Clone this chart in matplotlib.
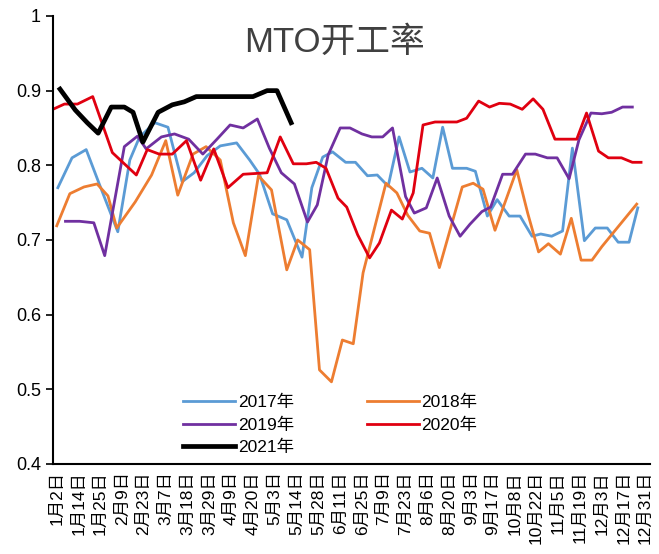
import matplotlib
matplotlib.use("Agg")
import matplotlib.pyplot as plt

plt.rcParams['font.family'] = ['Liberation Sans', 'Noto Sans CJK SC', 'DejaVu Sans']

# category labels (one label every two slots)
tick_labels = ['1月2日', '1月14日', '1月25日', '2月9日', '2月23日', '3月7日', '3月18日',
               '3月29日', '4月9日', '4月20日', '5月3日', '5月14日', '5月28日', '6月11日',
               '6月25日', '7月9日', '7月23日', '8月6日', '8月20日', '9月3日', '9月17日',
               '10月8日', '10月22日', '11月5日', '11月19日', '12月3日', '12月17日', '12月31日']

# each year: position on the shared date axis (slots) and operating rate
x2017 = [0.1, 1.4, 2.7, 3.9, 5.6, 6.7, 7.6, 9.0, 10.2, 11.5, 12.6, 13.8, 15.0, 16.5, 17.7,
         18.6, 19.8, 21.1, 22.5, 23.4, 24.4, 25.3, 26.5, 27.4, 28.5, 29.4, 30.4, 31.4, 32.4,
         33.5, 34.5, 35.4, 36.3, 37.6, 38.4, 39.5, 40.4, 41.5, 42.5, 43.6, 44.4, 45.4, 46.4,
         47.3, 48.4, 49.4, 50.5, 51.5, 52.5, 53.3]
y2017 = [0.770, 0.810, 0.821, 0.775, 0.711, 0.807, 0.838, 0.857, 0.851, 0.778, 0.790, 0.813,
         0.826, 0.830, 0.807, 0.788, 0.735, 0.727, 0.677, 0.770, 0.811, 0.818, 0.804, 0.804,
         0.786, 0.787, 0.772, 0.838, 0.791, 0.796, 0.783, 0.851, 0.796, 0.796, 0.792, 0.732,
         0.754, 0.732, 0.732, 0.705, 0.708, 0.705, 0.712, 0.823, 0.699, 0.716, 0.716, 0.697,
         0.697, 0.743]

x2018 = [0.0, 1.2, 2.5, 3.7, 4.7, 5.5, 7.2, 8.7, 10.0, 11.1, 12.5, 13.7, 15.0, 16.2, 17.3,
         18.5, 19.7, 21.1, 22.1, 23.2, 24.1, 25.2, 26.2, 27.2, 28.1, 30.2, 31.2, 32.2, 33.3,
         34.2, 35.1, 37.2, 38.2, 39.1, 40.2, 42.2, 43.2, 44.2, 45.1, 46.2, 47.2, 48.1, 49.1,
         50.0, 53.2]
y2018 = [0.719, 0.762, 0.771, 0.775, 0.759, 0.716, 0.751, 0.787, 0.833, 0.760, 0.815, 0.825,
         0.807, 0.723, 0.679, 0.786, 0.767, 0.660, 0.700, 0.687, 0.526, 0.510, 0.566, 0.561,
         0.656, 0.776, 0.763, 0.733, 0.712, 0.709, 0.663, 0.771, 0.776, 0.768, 0.713, 0.794,
         0.736, 0.684, 0.695, 0.681, 0.729, 0.673, 0.673, 0.691, 0.748]

x2019 = [0.8, 2.1, 3.4, 4.4, 6.2, 7.4, 8.2, 9.6, 10.8, 12.1, 13.4, 14.7, 15.9, 17.1, 18.4,
         19.5, 20.6, 21.8, 23.0, 23.9, 24.9, 26.0, 26.9, 28.0, 28.9, 29.9, 30.8, 32.0, 32.8,
         33.9, 34.9, 36.0, 37.0, 37.9, 39.0, 39.8, 40.9, 41.8, 43.0, 43.9, 45.0, 45.9, 47.0,
         47.9, 49.0, 50.0, 50.9, 51.9, 52.8]
y2019 = [0.725, 0.725, 0.723, 0.679, 0.825, 0.839, 0.822, 0.838, 0.842, 0.835, 0.815, 0.835,
         0.854, 0.850, 0.862, 0.823, 0.790, 0.775, 0.724, 0.747, 0.814, 0.850, 0.850, 0.842,
         0.838, 0.838, 0.850, 0.758, 0.736, 0.743, 0.783, 0.732, 0.705, 0.721, 0.738, 0.744,
         0.788, 0.788, 0.815, 0.815, 0.810, 0.810, 0.782, 0.834, 0.870, 0.869, 0.871, 0.878,
         0.878]

x2020 = [-0.35, 0.7, 1.9, 3.3, 5.1, 7.3, 8.3, 9.4, 10.6, 11.9, 13.2, 14.4, 15.7, 17.1, 19.3,
         20.5, 21.7, 22.9, 23.8, 24.7, 25.8, 26.6, 27.6, 28.7, 29.6, 30.7, 31.7, 32.7, 33.6,
         34.7, 36.7, 37.6, 38.7, 39.7, 40.6, 41.6, 42.7, 43.7, 44.6, 45.7, 47.7, 48.6, 49.7,
         50.6, 51.8, 52.8, 53.6]
y2020 = [0.875, 0.882, 0.882, 0.892, 0.817, 0.787, 0.821, 0.815, 0.815, 0.833, 0.780, 0.822,
         0.770, 0.788, 0.790, 0.838, 0.802, 0.802, 0.804, 0.796, 0.756, 0.744, 0.707, 0.676,
         0.696, 0.740, 0.728, 0.763, 0.854, 0.858, 0.858, 0.863, 0.886, 0.878, 0.883, 0.882,
         0.875, 0.889, 0.875, 0.835, 0.835, 0.870, 0.819, 0.810, 0.810, 0.804, 0.804]

x2021 = [0.3, 1.7, 2.8, 3.8, 5.0, 6.2, 7.0, 7.9, 9.3, 10.6, 11.7, 12.8, 18.0, 19.3, 20.2, 21.5]
y2021 = [0.902, 0.874, 0.857, 0.843, 0.878, 0.878, 0.871, 0.831, 0.871, 0.881, 0.885, 0.892,
         0.892, 0.900, 0.900, 0.857]

fig = plt.figure(figsize=(6.59, 5.54), dpi=100)
ax = fig.add_axes([0.080, 0.1625, 0.906, 0.8087])

l17, = ax.plot(x2017, y2017, color='#5B9BD5', lw=2.0, label='2017年')
l18, = ax.plot(x2018, y2018, color='#ED7D31', lw=2.0, label='2018年')
l19, = ax.plot(x2019, y2019, color='#7030A0', lw=2.0, label='2019年')
l20, = ax.plot(x2020, y2020, color='#E00010', lw=2.0, label='2020年')
l21, = ax.plot(x2021, y2021, color='#000000', lw=3.4, label='2021年')

ax.set_xlim(-0.37, 54.4)
ax.set_ylim(0.4, 1.0)
ax.set_yticks([0.4, 0.5, 0.6, 0.7, 0.8, 0.9, 1.0])
ax.set_yticklabels(['0.4', '0.5', '0.6', '0.7', '0.8', '0.9', '1'], fontsize=13)
ax.set_xticks(range(0, 2 * len(tick_labels), 2))
ax.set_xticklabels(tick_labels, rotation=90, fontsize=12.5)
ax.tick_params(axis='x', length=0, pad=5)
ax.tick_params(axis='y', length=5, width=1.2, direction='out')

for s in ['top', 'right']:
    ax.spines[s].set_visible(False)
ax.spines['left'].set_linewidth(1.5)
ax.spines['bottom'].set_linewidth(1.5)

ax.text(0.472, 0.94, 'MTO开工率', transform=ax.transAxes, ha='center', va='center',
        fontsize=25, color='#404040')

ax.legend([l17, l19, l21, l18, l20], ['2017年', '2019年', '2021年', '2018年', '2020年'],
          ncol=2, frameon=False, fontsize=12.5, loc='center', bbox_to_anchor=(0.465, 0.087),
          handlelength=3.0, columnspacing=4.2, labelspacing=0.42, handletextpad=0.15)

fig.savefig('out.png', dpi=100)
